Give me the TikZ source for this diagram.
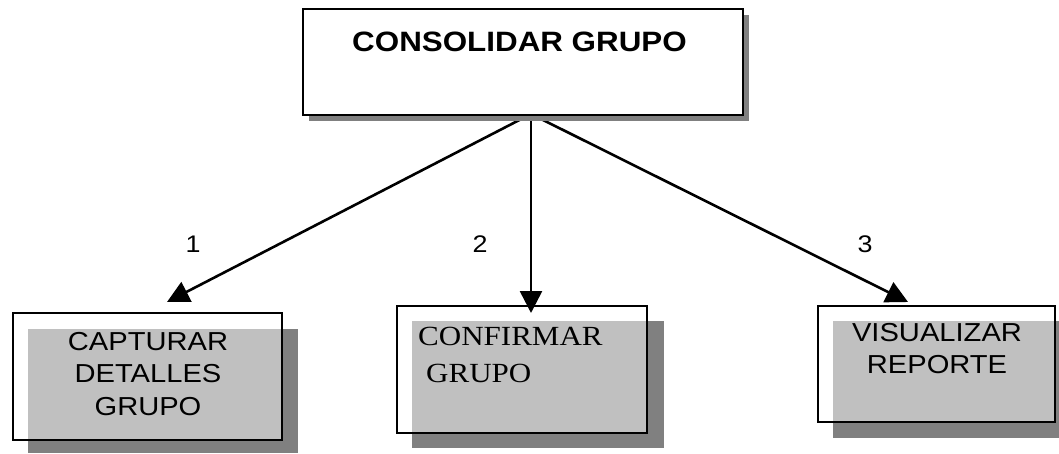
\documentclass[tikz,border=0pt]{standalone}
\usepackage{fontspec}
\usetikzlibrary{arrows.meta}
\newfontfamily\arialf[FakeStretch=1.12]{Liberation Sans}
\newfontfamily\timesf[FakeStretch=1.12]{Liberation Serif}
\definecolor{shadowgray}{HTML}{808080}
\definecolor{overlapgray}{HTML}{C0C0C0}
\tikzset{
  shadowfill/.style={fill=shadowgray},
  overlapfill/.style={fill=overlapgray},
  boxborder/.style={draw=black, line width=2pt},
  lowbox/.style={rectangle, fill=white, draw=none, inner sep=0pt, anchor=north west},
  topbox/.style={rectangle, fill=white, draw=black, line width=2.4pt, inner sep=0pt, anchor=north west},
  conn/.style={line width=2.6pt, -{Triangle[length=22pt,width=22pt]}},
  sanslabel/.style={inner sep=0pt, font=\arialf\fontsize{26pt}{32.5pt}\selectfont},
  seriflabel/.style={inner sep=0pt, font=\timesf\fontsize{27.7pt}{37pt}\selectfont},
  numlabel/.style={inner sep=0pt, anchor=base, font=\arialf\fontsize{24pt}{28pt}\selectfont},
}
\begin{document}
\begin{tikzpicture}[x=1pt, y=-1pt]
\useasboundingbox (0,0) rectangle (1059,454);
\clip (0,0) rectangle (1059,454);

% ---- box 1
\fill[shadowfill] (28,329) rectangle (298,453);
\node[lowbox, minimum width=269pt, minimum height=127pt] (b1) at (13,313) {};
\fill[overlapfill] (28,329) rectangle (b1.south east);
\draw[boxborder] (b1.north west) rectangle (b1.south east);
\node[sanslabel, anchor=north, align=center] (t1) at (148,332) {CAPTURAR\\DETALLES\\GRUPO};

% ---- box 2
\fill[shadowfill] (412,321) rectangle (664,448);
\node[lowbox, minimum width=250pt, minimum height=127pt] (b2) at (397,306) {};
\fill[overlapfill] (412,321) rectangle (b2.south east);
\draw[boxborder] (b2.north west) rectangle (b2.south east);
\node[seriflabel, anchor=north west, align=left] (t2) at (418,327) {CONFIRMAR\\\hspace*{8pt}GRUPO};

% ---- box 3
\fill[shadowfill] (833,321) rectangle (1070,438);
\node[lowbox, minimum width=237pt, minimum height=116pt] (b3) at (818,306) {};
\fill[overlapfill] (833,321) rectangle (b3.south east);
\draw[boxborder] (b3.north west) rectangle (b3.south east);
\node[sanslabel, anchor=north, align=center] (t3) at (937,323) {VISUALIZAR\\REPORTE};

% ---- connectors
\coordinate (src) at (531,114);
\coordinate (e1) at (167,302);
\coordinate (e2) at (531,313);
\coordinate (e3) at (908,302);
\draw[conn] (src) -- (e1);
\draw[conn] (src) -- (e2);
\draw[conn] (src) -- (e3);
\node[numlabel] (n1) at (193,252) {1};
\node[numlabel] (n2) at (480,252) {2};
\node[numlabel] (n3) at (865,252) {3};

% ---- top box
\fill[shadowfill] (309,15) rectangle (749,121);
\node[topbox, minimum width=440pt, minimum height=106pt] (top) at (302,8) {};
\node[inner sep=0pt, anchor=base, font=\arialf\bfseries\fontsize{28pt}{32pt}\selectfont] (toptext) at (519.5,52) {CONSOLIDAR GRUPO};
\end{tikzpicture}
\end{document}
